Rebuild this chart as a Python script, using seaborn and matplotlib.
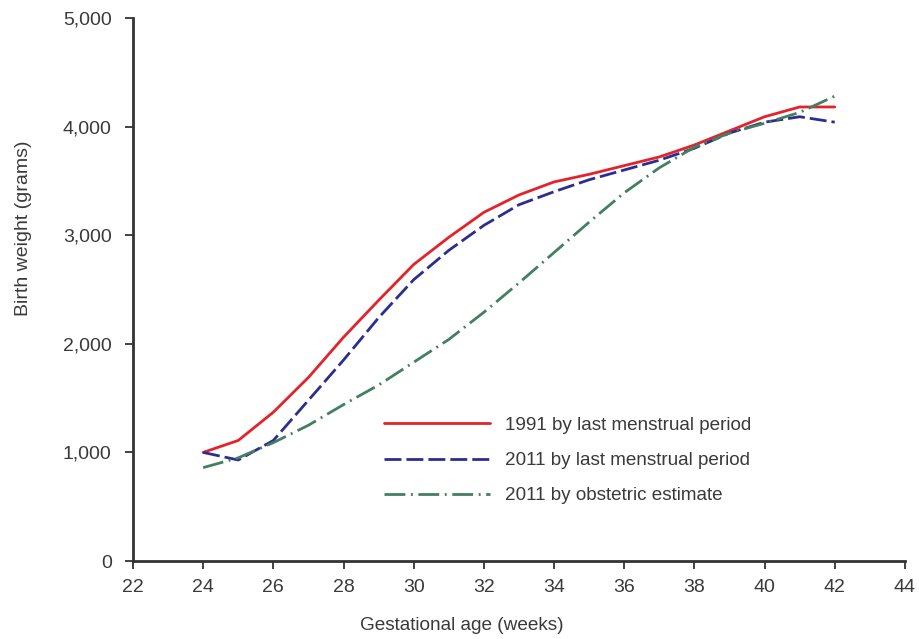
import matplotlib
matplotlib.use("Agg")
import matplotlib.pyplot as plt
import seaborn as sns
import pandas as pd
from matplotlib.ticker import FuncFormatter

weeks = [24, 25, 26, 27, 28, 29, 30, 31, 32, 33, 34, 35, 36, 37, 38, 39, 40, 41, 42]
lmp_1991 = [1000, 1110, 1370, 1690, 2060, 2400, 2730, 2980, 3210, 3370, 3490, 3560, 3640, 3720, 3830, 3960, 4090, 4180, 4180]
lmp_2011 = [1000, 930, 1110, 1480, 1850, 2240, 2590, 2860, 3090, 3280, 3400, 3510, 3600, 3690, 3800, 3940, 4040, 4090, 4040]
obst_2011 = [860, 950, 1090, 1250, 1440, 1620, 1830, 2040, 2290, 2560, 2840, 3120, 3390, 3620, 3810, 3940, 4030, 4130, 4280]
series_names = ["1991 by last menstrual period", "2011 by last menstrual period", "2011 by obstetric estimate"]
x_ticks = [22, 24, 26, 28, 30, 32, 34, 36, 38, 40, 42, 44]
y_ticks = [0, 1000, 2000, 3000, 4000, 5000]

df = pd.concat([
    pd.DataFrame({"week": weeks, "weight": vals, "series": name})
    for name, vals in zip(series_names, [lmp_1991, lmp_2011, obst_2011])
], ignore_index=True)

sns.set_style("white")
plt.rcParams["font.family"] = ["Liberation Sans", "DejaVu Sans"]

fig = plt.figure(figsize=(9.19, 6.39), dpi=100)
ax = fig.add_axes([0.1447, 0.122, 0.840, 0.850])

palette = {series_names[0]: "#e3222a", series_names[1]: "#2b2e8f", series_names[2]: "#437f60"}
dashes = {series_names[0]: "", series_names[1]: (6.1, 1.8), series_names[2]: (7.5, 2.0, 0.7, 2.0)}

sns.lineplot(data=df, x="week", y="weight", hue="series", style="series",
             palette=palette, dashes=dashes, linewidth=2.0, ax=ax, legend=True)

ax.set_xlim(22, 44)
ax.set_ylim(0, 5000)
ax.set_xticks(x_ticks)
ax.set_yticks(y_ticks)
ax.yaxis.set_major_formatter(FuncFormatter(lambda v, p: f"{int(v):,}"))
ax.tick_params(axis="both", labelsize=14, colors="#333333", length=6, width=1.3, direction="out",
               bottom=True, left=True, labelcolor="#3a3a3a")
ax.tick_params(axis="x", pad=7)
ax.tick_params(axis="y", pad=9.3)
for s in ["top", "right"]:
    ax.spines[s].set_visible(False)
for s in ["left", "bottom"]:
    ax.spines[s].set_color("#333333")
    ax.spines[s].set_linewidth(2)

ax.set_xlabel("Gestational age (weeks)", fontsize=13.7, color="#3a3a3a", labelpad=15, x=0.426)
ax.set_ylabel("Birth weight (grams)", fontsize=14, color="#3a3a3a", labelpad=22, y=0.613)

leg = ax.legend(loc="upper left", bbox_to_anchor=(0.303, 0.297), frameon=False, fontsize=13.6,
                handlelength=5.6, handletextpad=0.8, labelspacing=0.95)
for t in leg.get_texts():
    t.set_color("#3a3a3a")
for line in leg.get_lines():
    line.set_linewidth(2.0)

fig.savefig("out.png", dpi=100)
